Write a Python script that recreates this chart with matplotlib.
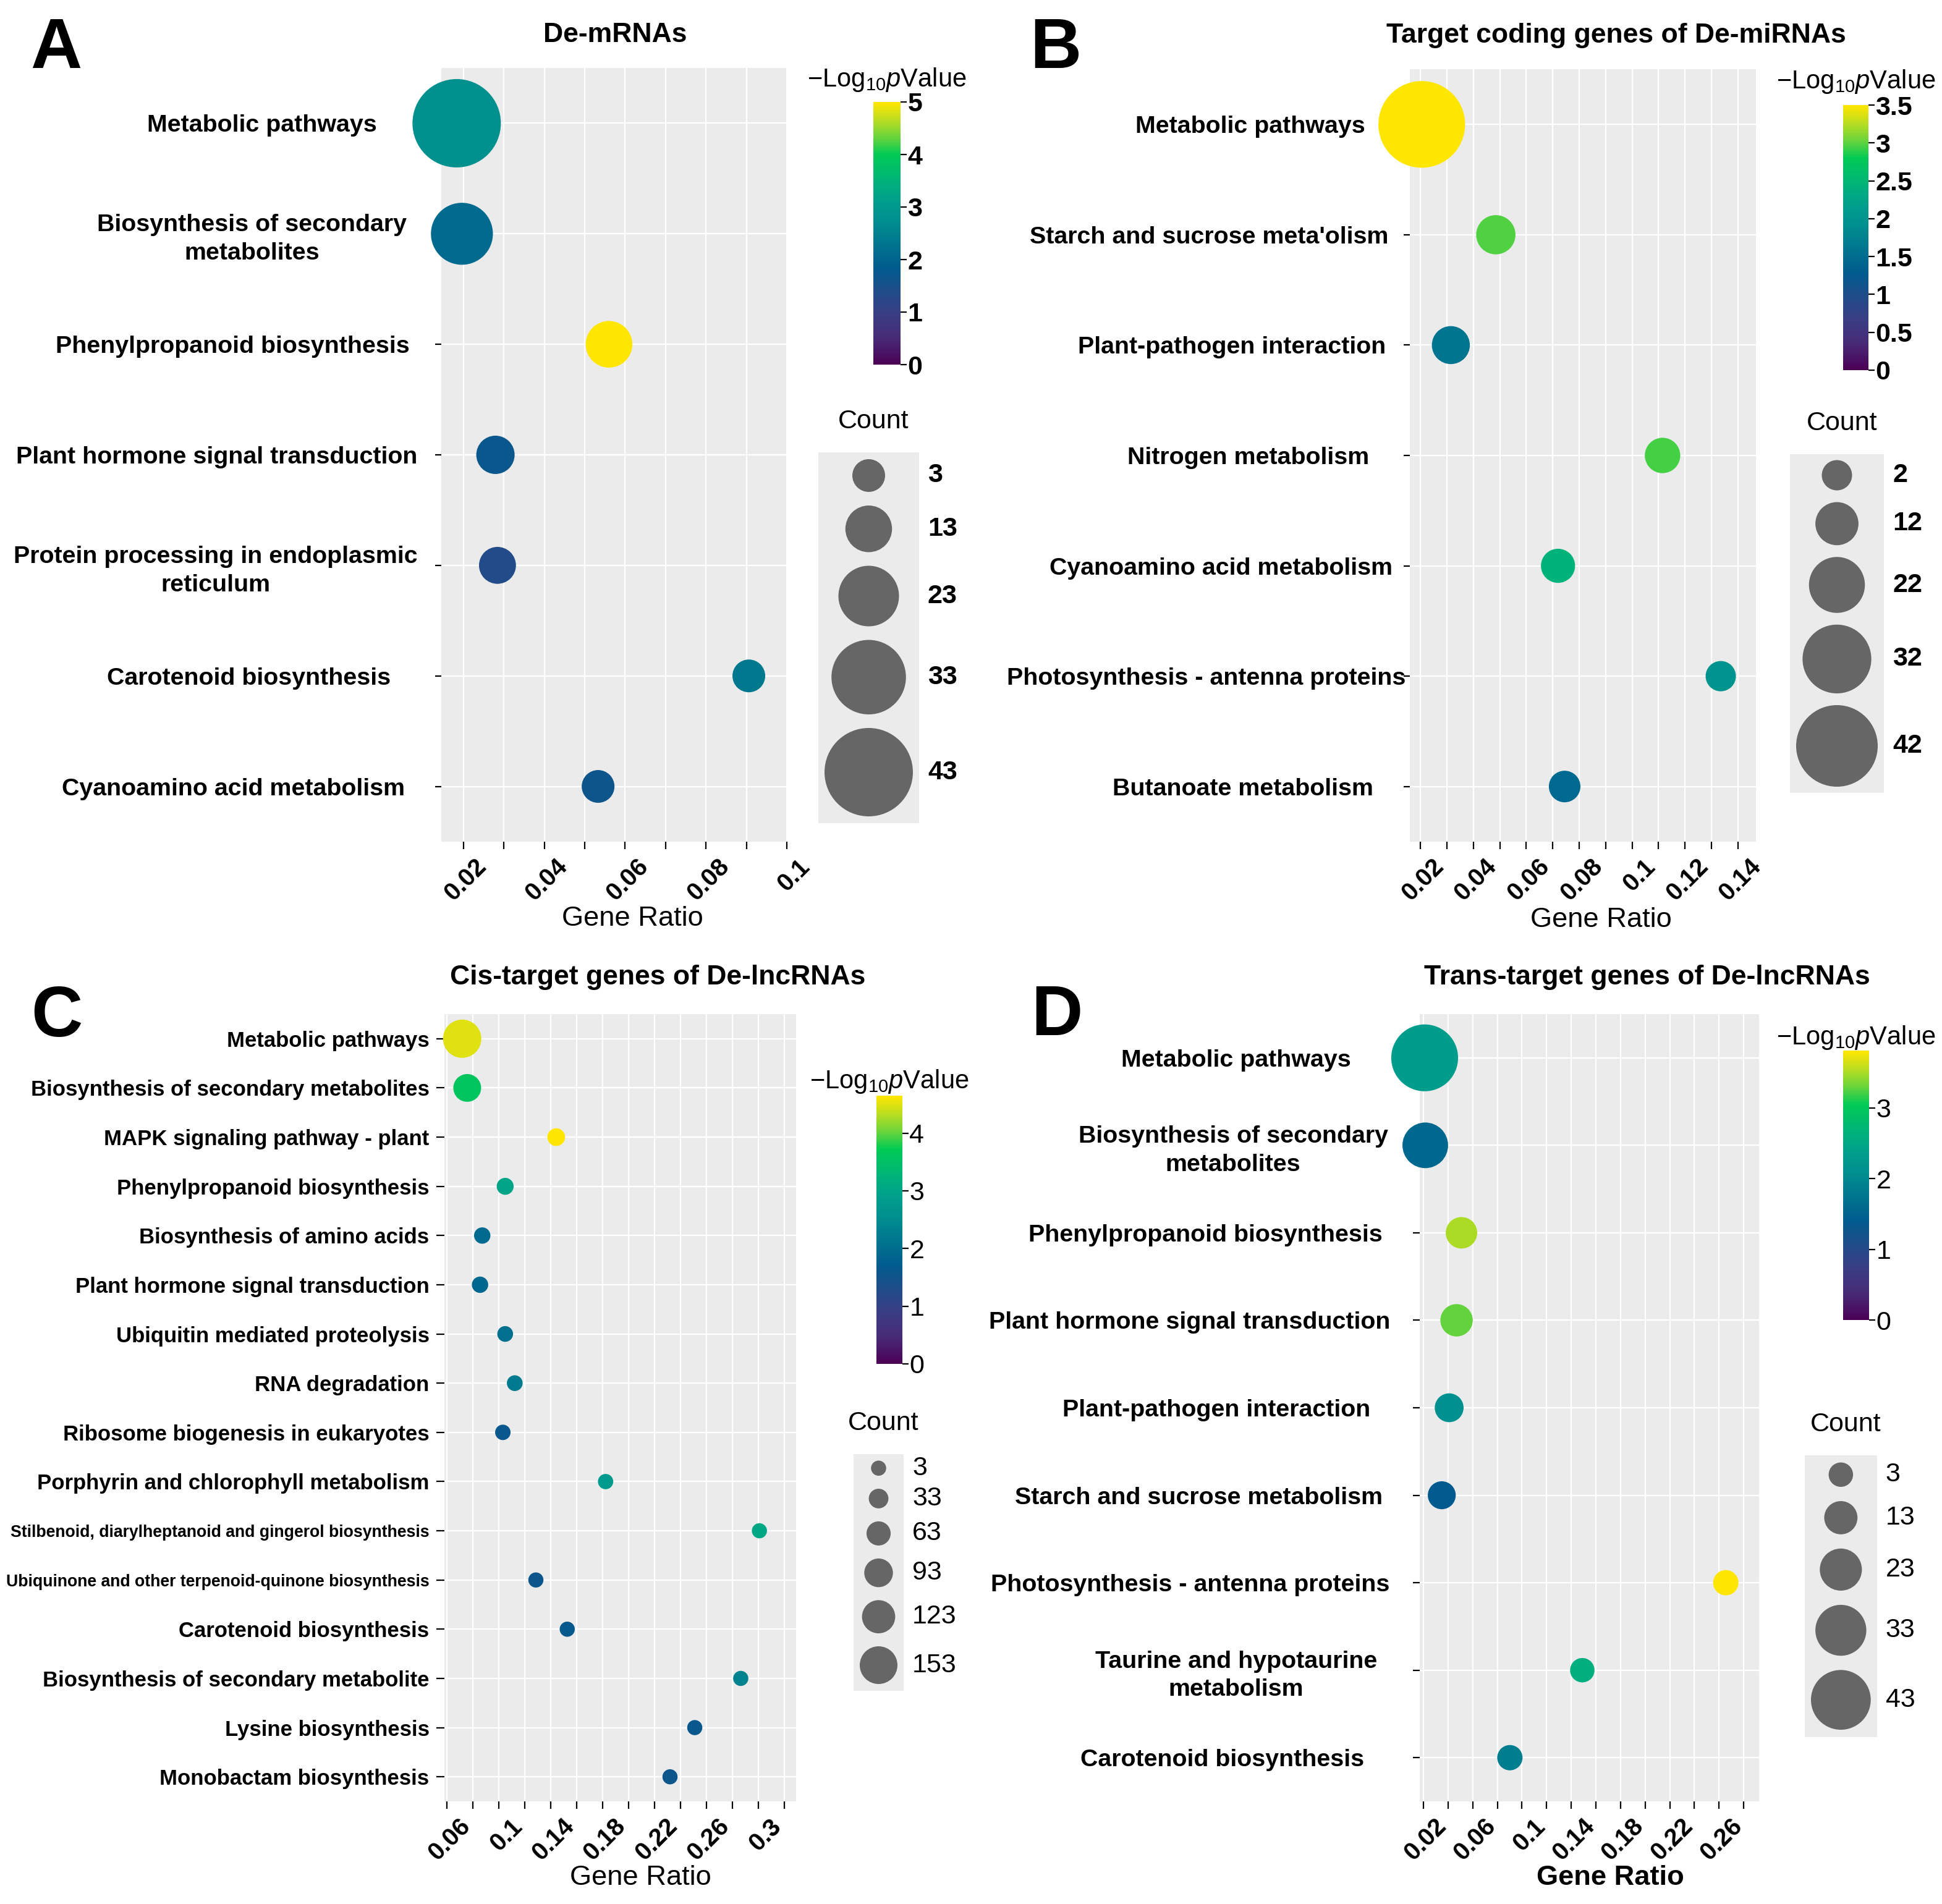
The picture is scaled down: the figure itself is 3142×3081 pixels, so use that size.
import numpy as np
import matplotlib
matplotlib.use("Agg")
import matplotlib.pyplot as plt
from matplotlib.colors import LinearSegmentedColormap, Normalize
from matplotlib.cm import ScalarMappable
from matplotlib.transforms import ScaledTranslation

# ---- data ----
# A: De-mRNAs
cats_a = ["Metabolic pathways", "Biosynthesis of secondary\nmetabolites",
          "Phenylpropanoid biosynthesis", "Plant hormone signal transduction",
          "Protein processing in endoplasmic\nreticulum", "Carotenoid biosynthesis",
          "Cyanoamino acid metabolism"]
ratio_a = [0.0183, 0.0196, 0.0560, 0.0279, 0.0284, 0.0906, 0.0533]
count_a = [43, 24, 13, 7, 6, 3, 3]
logp_a = [2.8, 2.1, 5.0, 1.7, 1.35, 2.35, 1.65]

# B: target coding genes of De-miRNAs
cats_b = ["Metabolic pathways", "Starch and sucrose meta'olism",
          "Plant-pathogen interaction", "Nitrogen metabolism",
          "Cyanoamino acid metabolism", "Photosynthesis - antenna proteins",
          "Butanoate metabolism"]
ratio_b = [0.0205, 0.0485, 0.0315, 0.1115, 0.0720, 0.1335, 0.0745]
count_b = [46, 9, 8, 6, 5, 2, 3]
logp_b = [3.5, 2.98, 1.6, 2.95, 2.45, 2.0, 1.45]

# C: cis-target genes of De-lncRNAs
cats_c = ["Metabolic pathways", "Biosynthesis of secondary metabolites",
          "MAPK signaling pathway - plant", "Phenylpropanoid biosynthesis",
          "Biosynthesis of amino acids", "Plant hormone signal transduction",
          "Ubiquitin mediated proteolysis", "RNA degradation",
          "Ribosome biogenesis in eukaryotes", "Porphyrin and chlorophyll metabolism",
          "Stilbenoid, diarylheptanoid and gingerol biosynthesis",
          "Ubiquinone and other terpenoid-quinone biosynthesis",
          "Carotenoid biosynthesis", "Biosynthesis of secondary metabolite",
          "Lysine biosynthesis", "Monobactam biosynthesis"]
ratio_c = [0.0716, 0.0755, 0.1442, 0.1048, 0.0871, 0.0854, 0.1048, 0.1122,
           0.1030, 0.1823, 0.3010, 0.1285, 0.1527, 0.2866, 0.2511, 0.2320]
count_c = [157, 87, 20, 15, 11, 11, 7, 7, 5, 4, 3, 3, 3, 3, 3, 3]
logp_c = [4.5, 3.6, 4.65, 3.0, 1.95, 1.9, 2.05, 2.2, 1.6, 2.8, 3.05, 1.55,
          1.65, 2.35, 1.6, 1.55]

# D: trans-target genes of De-lncRNAs
cats_d = ["Metabolic pathways", "Biosynthesis of secondary\nmetabolites",
          "Phenylpropanoid biosynthesis", "Plant hormone signal transduction",
          "Plant-pathogen interaction", "Starch and sucrose metabolism",
          "Photosynthesis - antenna proteins", "Taurine and hypotaurine\nmetabolism",
          "Carotenoid biosynthesis"]
ratio_d = [0.0210, 0.0215, 0.0509, 0.0469, 0.0409, 0.0349, 0.2655, 0.1490, 0.0902]
count_d = [51, 27, 11, 12, 8, 7, 4, 3, 4]
logp_d = [2.35, 1.55, 3.5, 3.28, 2.1, 1.37, 3.81, 2.6, 1.87]

# legend breaks
cbar_ticks_a = [0, 1, 2, 3, 4, 5]
cbar_ticks_b = [0, 0.5, 1, 1.5, 2, 2.5, 3, 3.5]
cbar_ticks_c = [0, 1, 2, 3, 4]
cbar_ticks_d = [0, 1, 2, 3]
size_breaks_a = [3, 13, 23, 33, 43]
size_breaks_b = [2, 12, 22, 32, 42]
size_breaks_c = [3, 33, 63, 93, 123, 153]
size_breaks_d = [3, 13, 23, 33, 43]

# x axis ticks (labels only on every other tick)
xt_a = [0.02, 0.03, 0.04, 0.05, 0.06, 0.07, 0.08, 0.09, 0.1]
xl_a = ["0.02", "", "0.04", "", "0.06", "", "0.08", "", "0.1"]
xt_b = [0.02, 0.03, 0.04, 0.05, 0.06, 0.07, 0.08, 0.09, 0.1, 0.11, 0.12, 0.13, 0.14]
xl_b = ["0.02", "", "0.04", "", "0.06", "", "0.08", "", "0.1", "", "0.12", "", "0.14"]
xt_c = [0.06, 0.08, 0.1, 0.12, 0.14, 0.16, 0.18, 0.2, 0.22, 0.24, 0.26, 0.28, 0.3, 0.32]
xl_c = ["0.06", "", "0.1", "", "0.14", "", "0.18", "", "0.22", "", "0.26", "", "0.3", ""]
xt_d = [0.02, 0.04, 0.06, 0.08, 0.1, 0.12, 0.14, 0.16, 0.18, 0.2, 0.22, 0.24, 0.26, 0.28]
xl_d = ["0.02", "", "0.06", "", "0.1", "", "0.14", "", "0.18", "", "0.22", "", "0.26", ""]

# ---- look ----
W, H, DPI = 3142, 3081, 200
plt.rcParams["font.family"] = ["Liberation Sans", "DejaVu Sans"]
plt.rcParams["mathtext.fontset"] = "custom"
plt.rcParams["mathtext.rm"] = "Liberation Sans"
plt.rcParams["mathtext.it"] = "Liberation Sans:italic"

cmap = LinearSegmentedColormap.from_list("pv", [
    (0.0, "#4B0055"), (0.1, "#482B77"), (0.2, "#383F85"), (0.3, "#19508B"),
    (0.37, "#005C8E"), (0.45, "#00738F"), (0.55, "#008F8F"), (0.62, "#009E8D"),
    (0.7, "#00B37A"), (0.8, "#00CA55"), (0.87, "#6DD43A"), (0.94, "#C2DE1E"),
    (1.0, "#FFE600")])

fig = plt.figure(figsize=(W / DPI, H / DPI), dpi=DPI)


def box(x0, y0, x1, y1):
    return [x0 / W, 1 - y1 / H, (x1 - x0) / W, (y1 - y0) / H]


def pt(px):
    return px * 72 / DPI


def diam(c, sz):
    c0, d0, c1, d1 = sz
    return d0 + (np.asarray(c, float) - c0) * (d1 - d0) / (c1 - c0)


def panel(cats, ratio, count, logp, vmax, cticks, sbreaks, xt, xl, cfg):
    n = len(cats)
    ax = fig.add_axes(box(*cfg["axes"]))
    ax.set_facecolor("#EBEBEB")
    for s in ax.spines.values():
        s.set_visible(False)
    ax.set_axisbelow(True)
    ax.grid(True, color="white", linewidth=0.8)
    norm = Normalize(0, vmax)
    ax.scatter(ratio, np.arange(n), s=pt(diam(count, cfg["size"])) ** 2, c=logp,
               cmap=cmap, norm=norm, linewidths=0, zorder=3, clip_on=False)
    ax.set_xlim(*cfg["xlim"])
    ax.set_ylim(n - 0.5, -0.5)

    ax.set_xticks(xt, labels=xl)
    ax.tick_params(axis="x", length=4.3, width=0.8, color="black", labelsize=14.5, pad=3.2)
    for lab in ax.get_xticklabels():
        lab.set_fontweight("bold")
        lab.set_rotation(45)
        lab.set_ha("right")
        lab.set_va("top")
        lab.set_rotation_mode("anchor")
        lab.set_transform(lab.get_transform() + ScaledTranslation(18 / DPI, 0, fig.dpi_scale_trans))

    ax.set_yticks(np.arange(n), labels=cats)
    ax.tick_params(axis="y", length=cfg["ylen"], width=0.8, color="black", labelsize=cfg["yfs"])
    for lab in ax.get_yticklabels():
        lab.set_fontweight("bold")
        lab.set_multialignment("center")
        lab.set_linespacing(1.35)
    ticks = ax.yaxis.get_major_ticks()
    for i, t in enumerate(ticks):
        t.set_pad(cfg["ypads"][i])
        if i in cfg["noticks"]:
            t.tick1line.set_visible(False)
    for i, fs in cfg.get("small", {}).items():
        ax.get_yticklabels()[i].set_fontsize(fs)

    fig.text(cfg["xlab"][0] / W, 1 - cfg["xlab"][1] / H, "Gene Ratio", ha="center", va="center",
             fontsize=16.3, fontweight=cfg["xlab_w"])
    fig.text(cfg["title"][0] / W, 1 - cfg["title"][1] / H, cfg["title_s"], ha="center",
             va="center", fontsize=16, fontweight="bold")
    fig.text(cfg["letter"][0] / W, 1 - cfg["letter"][1] / H, cfg["letter_s"], ha="left",
             va="baseline", fontsize=41.5, fontweight="bold")

    # colour bar
    cb_box = cfg["cbar"]
    cax = fig.add_axes(box(*cb_box))
    cb = fig.colorbar(ScalarMappable(norm=norm, cmap=cmap), cax=cax)
    cb.outline.set_visible(False)
    cb.set_ticks(cticks)
    cb.set_ticklabels([("%g" % v) for v in cticks])
    cax.tick_params(length=3.6, width=0.8, color="black", labelsize=15.5, pad=0.5)
    for lab in cax.get_yticklabels():
        lab.set_fontweight(cfg["leg_w"])
    fig.text((cb_box[0] + cb_box[2]) / 2 / W, 1 - cfg["cbar_title_y"] / H,
             "\u2212Log$_{10}$$\\mathit{p}$Value", ha="center", va="baseline", fontsize=15)

    # size legend
    d = diam(sbreaks, cfg["size"])
    h = d + cfg["leg_pad"]
    total = h.sum()
    w = cfg["size"][3] + 20
    lx, ly = cfg["leg"]
    lax = fig.add_axes(box(lx, ly, lx + w, ly + total))
    lax.set_facecolor("#EBEBEB")
    for s in lax.spines.values():
        s.set_visible(False)
    lax.set_xticks([])
    lax.set_yticks([])
    lax.set_xlim(0, w)
    lax.set_ylim(total, 0)
    yc = np.cumsum(h) - h / 2
    lax.scatter(np.full(len(d), w / 2), yc, s=pt(d) ** 2, c="#666666", linewidths=0, clip_on=False)
    for b, y in zip(sbreaks, yc):
        lax.text(w + 14, y, str(b), ha="left", va="center", fontsize=15.5,
                 fontweight=cfg["leg_w"], clip_on=False)
    fig.text((lx + w / 2 + 8) / W, 1 - (ly - 50) / H, "Count", ha="center", va="center",
             fontsize=15.5)
    return ax


cfg_a = dict(axes=(714, 110, 1273, 1362), xlim=(0.0145, 0.1), size=(3, 53, 43, 143),
             ylen=3.6, yfs=14.2, ypads=[33.8, 16.6, 14.8, 10.4, 10.1, 25.9, 17.6],
             noticks=[0, 1], xlab=(1023, 1486), xlab_w="normal", title=(995, 57),
             title_s="De-mRNAs", letter=(49, 110), letter_s="A",
             cbar=(1413, 165, 1457, 590), cbar_title_y=140, leg=(1324, 732), leg_pad=22,
             leg_w="bold")
cfg_b = dict(axes=(2281, 112, 2841, 1362), xlim=(0.016, 0.1468), size=(2, 49, 42, 132),
             ylen=3.6, yfs=14.2, ypads=[22.3, 9.0, 10.3, 20.2, 6.5, -1.1, 17.6],
             noticks=[0], xlab=(2590, 1488), xlab_w="normal", title=(2615, 58),
             title_s="Target coding genes of De-miRNAs", letter=(1666, 110), letter_s="B",
             cbar=(2982, 170, 3023, 599), cbar_title_y=143, leg=(2896, 735), leg_pad=19,
             leg_w="bold")
cfg_c = dict(axes=(719, 1641, 1288, 2915), xlim=(0.0579, 0.3293), size=(3, 24.5, 153, 61),
             ylen=4.7, yfs=12.5, ypads=[4.1] * 16, noticks=[], small={10: 9.6, 11: 9.6},
             xlab=(1036, 3039), xlab_w="normal", title=(1064, 1582),
             title_s="Cis-target genes of De-lncRNAs", letter=(50, 1677), letter_s="C",
             cbar=(1418, 1773, 1460, 2207), cbar_title_y=1761, leg=(1381, 2353), leg_pad=21,
             leg_w="normal")
cfg_d = dict(axes=(2297, 1641, 2846, 2915), xlim=(0.017, 0.2925), size=(3, 39.5, 43, 96.7),
             ylen=4.0, yfs=14.2, ypads=[35.9, 14.5, 17.7, 13.1, 24.8, 17.7, 13.5, 20.9, 28.4],
             noticks=[0, 1], xlab=(2605, 3039), xlab_w="bold", title=(2665, 1582),
             title_s="Trans-target genes of De-lncRNAs", letter=(1668, 1675), letter_s="D",
             cbar=(2982, 1700, 3024, 2136), cbar_title_y=1690, leg=(2920, 2355), leg_pad=23,
             leg_w="normal")

panel(cats_a, ratio_a, count_a, logp_a, 5.0, cbar_ticks_a, size_breaks_a, xt_a, xl_a, cfg_a)
panel(cats_b, ratio_b, count_b, logp_b, 3.5, cbar_ticks_b, size_breaks_b, xt_b, xl_b, cfg_b)
panel(cats_c, ratio_c, count_c, logp_c, 4.65, cbar_ticks_c, size_breaks_c, xt_c, xl_c, cfg_c)
panel(cats_d, ratio_d, count_d, logp_d, 3.81, cbar_ticks_d, size_breaks_d, xt_d, xl_d, cfg_d)

fig.savefig("out.png", dpi=DPI)
